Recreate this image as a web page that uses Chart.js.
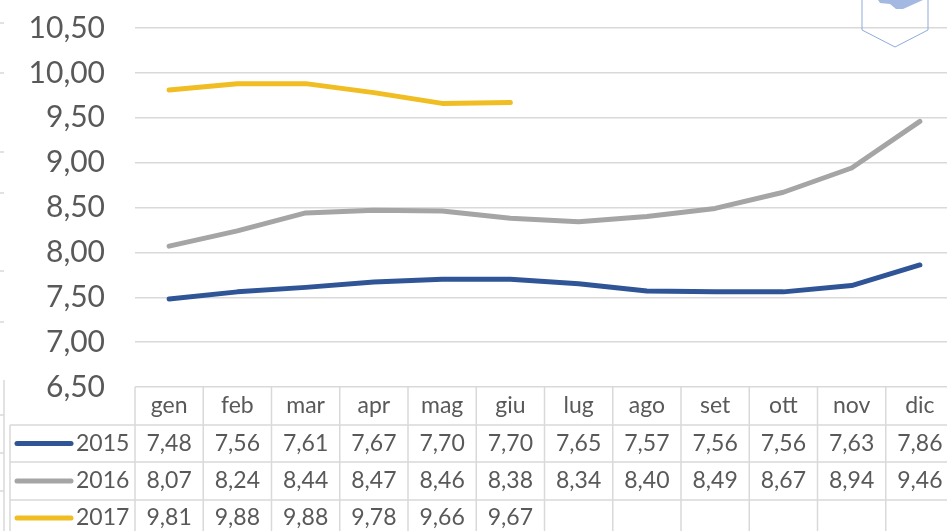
<!DOCTYPE html>
<html>
<head>
<meta charset="utf-8">
<script src="https://cdn.jsdelivr.net/npm/chart.js@4/dist/chart.umd.min.js"></script>
<style>
html, body { margin: 0; padding: 0; overflow: hidden; background: #fff; width: 947px; height: 531px; }
canvas { display: block; }
</style>
</head>
<body>
<canvas id="graficoPrezzi" width="960" height="531"></canvas>
<script>
// dati
var mesi = ['gen', 'feb', 'mar', 'apr', 'mag', 'giu', 'lug', 'ago', 'set', 'ott', 'nov', 'dic'];
var anni = ['2015', '2016', '2017'];
var valori2015 = [7.48, 7.56, 7.61, 7.67, 7.70, 7.70, 7.65, 7.57, 7.56, 7.56, 7.63, 7.86];
var valori2016 = [8.07, 8.24, 8.44, 8.47, 8.46, 8.38, 8.34, 8.40, 8.49, 8.67, 8.94, 9.46];
var valori2017 = [9.81, 9.88, 9.88, 9.78, 9.66, 9.67, null, null, null, null, null, null];
var minY = 6.5, maxY = 10.5, passoY = 0.5;

var colori = ['#2F5597', '#A5A5A5', '#F0BD22'];
var grigioTesto = '#595959';
var grigioBordo = '#D9D9D9';
var font = 'Lato, "Noto Sans", sans-serif';

function virgola(v) { return v.toFixed(2).replace('.', ','); }

var serie = [valori2015, valori2016, valori2017];

// tabella dati sotto il grafico
var tabellaDati = {
    id: 'tabellaDati',
    afterDraw: function (chart) {
        var ctx = chart.ctx;
        var x = chart.scales.x;
        var area = chart.chartArea;
        var w = area.width / mesi.length;
        var righe = [area.bottom, 425, 462, 500, 540];
        ctx.save();
        ctx.strokeStyle = grigioBordo;
        ctx.lineWidth = 1.5;
        // righe orizzontali
        for (var r = 1; r < righe.length - 1; r++) {
            ctx.beginPath();
            ctx.moveTo(10, righe[r]);
            ctx.lineTo(area.right, righe[r]);
            ctx.stroke();
        }
        // colonne
        for (var c = 0; c <= mesi.length; c++) {
            var cx = area.left + c * w;
            ctx.beginPath();
            ctx.moveTo(cx, area.bottom);
            ctx.lineTo(cx, 531);
            ctx.stroke();
        }
        ctx.beginPath();
        ctx.moveTo(10, 425);
        ctx.lineTo(10, 531);
        ctx.stroke();
        // bordi tagliati a sinistra
        [23, 73, 152, 193, 271, 322].forEach(function (yy) {
            ctx.beginPath();
            ctx.moveTo(0, yy);
            ctx.lineTo(4, yy);
            ctx.stroke();
        });
        ctx.beginPath();
        ctx.moveTo(4, 380);
        ctx.lineTo(4, 531);
        ctx.stroke();
        [415, 453, 491].forEach(function (yy) {
            ctx.beginPath();
            ctx.moveTo(0, yy);
            ctx.lineTo(4, yy);
            ctx.stroke();
        });

        // testi
        ctx.fillStyle = grigioTesto;
        ctx.font = '23px ' + font;
        ctx.textAlign = 'center';
        ctx.textBaseline = 'middle';
        mesi.forEach(function (m, i) {
            ctx.fillText(m, x.getPixelForValue(i), (righe[0] + righe[1]) / 2);
        });
        serie.forEach(function (valori, s) {
            var yc = (righe[s + 1] + righe[s + 2]) / 2;
            if (s === 2) yc = 518;
            ctx.textAlign = 'center';
            valori.forEach(function (v, i) {
                if (v !== null) ctx.fillText(virgola(v), x.getPixelForValue(i), yc);
            });
            // legenda
            ctx.strokeStyle = colori[s];
            ctx.lineWidth = 5;
            ctx.lineCap = 'round';
            ctx.beginPath();
            ctx.moveTo(17, yc);
            ctx.lineTo(71, yc);
            ctx.stroke();
            ctx.textAlign = 'left';
            ctx.fillText(anni[s], 76, yc);
        });

        // logo in alto a destra
        ctx.lineCap = 'butt';
        ctx.strokeStyle = '#8FAADC';
        ctx.lineWidth = 1;
        ctx.beginPath();
        ctx.moveTo(862, -2);
        ctx.lineTo(862, 30);
        ctx.lineTo(895, 47);
        ctx.lineTo(928, 30);
        ctx.lineTo(928, -2);
        ctx.stroke();
        ctx.fillStyle = '#A4B9E2';
        ctx.beginPath();
        ctx.moveTo(878, 0);
        ctx.lineTo(923, 0);
        ctx.lineTo(903, 9);
        ctx.lineTo(896, 9);
        ctx.lineTo(890, 4);
        ctx.lineTo(880, 3);
        ctx.closePath();
        ctx.fill();
        ctx.restore();
    }
};

var graficoPrezzi = new Chart(document.getElementById('graficoPrezzi').getContext('2d'), {
    type: 'line',
    data: {
        labels: mesi,
        datasets: serie.map(function (valori, s) {
            return {
                label: anni[s],
                data: valori,
                borderColor: colori[s],
                backgroundColor: colori[s],
                borderWidth: 5,
                borderCapStyle: 'round',
                borderJoinStyle: 'round',
                pointRadius: 0,
                tension: 0,
                fill: false
            };
        })
    },
    options: {
        responsive: false,
        animation: false,
        layout: { padding: { top: 28, bottom: 144, right: 6, left: 0 } },
        plugins: { legend: { display: false }, tooltip: { enabled: false } },
        scales: {
            x: { display: false, offset: true },
            y: {
                min: minY,
                max: maxY,
                afterFit: function (scale) {
                    scale.width = 135;
                    scale.paddingTop = 0;
                    scale.paddingBottom = 0;
                },
                border: { display: false },
                grid: { color: grigioBordo, lineWidth: 1.5, drawTicks: false },
                ticks: {
                    stepSize: passoY,
                    padding: 30,
                    color: grigioTesto,
                    font: { family: font, size: 30 },
                    callback: function (v) { return virgola(v); }
                }
            }
        }
    },
    plugins: [tabellaDati]
});
</script>
</body>
</html>
